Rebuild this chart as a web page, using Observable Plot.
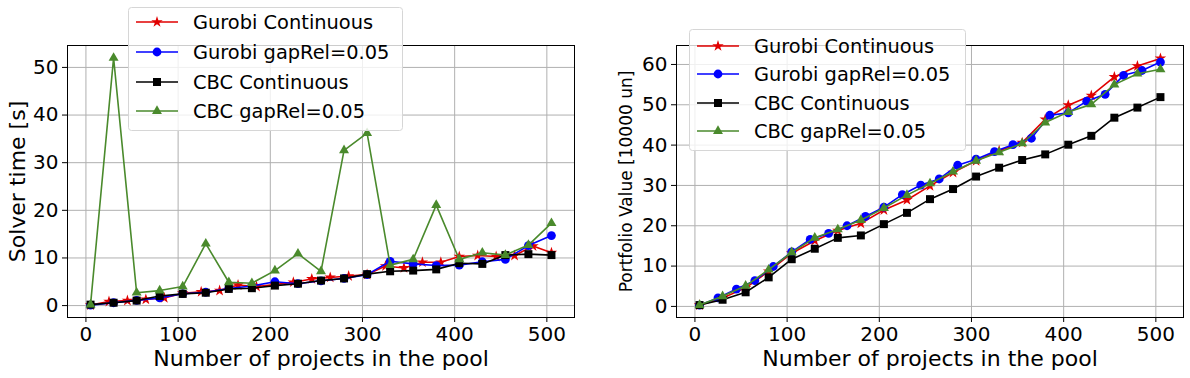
<!DOCTYPE html>
<html><head><meta charset="utf-8">
<script src="https://cdn.jsdelivr.net/npm/d3@7"></script>
<script src="https://cdn.jsdelivr.net/npm/@observablehq/plot@0.6"></script>
<style>
body{margin:0;background:#fff;font-family:"DejaVu Sans",sans-serif;}
#wrap{position:relative;width:1190px;height:378px;overflow:hidden;background:#fff;}
.panel{position:absolute;top:0;}
.legend{position:absolute;}
</style></head>
<body><div id="wrap"></div>
<script>
// ---- categories (number of projects) ----
const xStep25 = [5,30,55,80,105,130,155,180,205,230,255,280,305,330,355,380,405,430,455,480,505];
const xStep20 = [5,25,45,65,85,105,125,145,165,185,205,225,245,265,285,305,325,345,365,385,405,425,445,465,485,505];
const xTicks = [0,100,200,300,400,500];
const yTicksTime = [0,10,20,30,40,50];
const yTicksValue = [0,10,20,30,40,50,60];

// ---- left panel: solver time [s] ----
const timeGurobiCont = [0.1,0.85,1.05,1.3,1.6,2.6,2.9,3.15,4.3,4.0,4.4,4.9,5.6,5.9,6.2,6.5,8.3,7.9,9.1,9.1,10.3,10.5,10.3,10.5,12.5,11.1]; // xStep20
const timeGurobiGap  = [0.1,0.6,1.1,1.6,2.5,2.8,3.6,4.1,5.0,4.6,5.2,5.7,6.5,9.3,8.75,8.4,8.5,9.2,9.7,12.6,14.7]; // xStep25
const timeCbcCont    = [0.2,0.6,1.05,2.0,2.45,2.7,3.5,3.65,4.2,4.6,5.25,5.7,6.6,7.2,7.35,7.6,8.9,8.75,10.6,10.8,10.6]; // xStep25
const timeCbcGap     = [0.2,52.0,2.7,3.15,4.0,13.0,4.9,4.7,7.35,10.9,7.2,32.6,36.2,8.5,9.7,21.1,9.7,11.1,10.6,12.7,17.3]; // xStep25

// ---- right panel: portfolio value [10000 un] ----
const valGurobiCont = [0.3,2.1,4.6,8.7,13.2,16.3,18.8,20.6,23.9,26.4,29.9,33.2,36.1,38.6,40.6,46.4,49.9,52.3,56.9,59.6,61.5]; // xStep25
const valGurobiGap  = [0.3,2.1,4.3,6.4,9.9,13.5,16.6,18.1,20.0,22.3,24.6,27.7,30.1,31.6,35.0,36.5,38.4,40.1,41.7,47.4,48.0,50.9,52.6,57.3,58.5,60.6]; // xStep20
const valCbcCont    = [0.33,1.65,3.5,7.2,11.7,14.3,17.0,17.6,20.4,23.2,26.6,29.1,32.2,34.4,36.3,37.7,40.1,42.3,46.8,49.3,51.9]; // xStep25
const valCbcGap     = [0.33,2.5,5.1,9.1,13.4,17.0,19.1,21.4,24.4,27.6,30.5,33.4,36.1,38.2,40.4,45.6,48.2,50.1,55.0,57.7,58.8]; // xStep25

const seriesNames = ["Gurobi Continuous","Gurobi gapRel=0.05","CBC Continuous","CBC gapRel=0.05"];
const seriesColors = ["#e00000","#0000ff","#000000","#4a8a2c"];
const seriesSymbols = ["star","circle","square","triangle"];
const seriesR = [3.6,4.4,4.5,3.7];

const xLabel = "Number of projects in the pool";
const yLabelLeft = "Solver time [s]";
const yLabelRight = "Portfolio Value [10000 un]";

const zip = (xs, ys) => xs.map((x, i) => ({x, y: ys[i]}));

function panel({width, marginLeft, marginRight, yDomain, yTicks, data, yLabel, yLabelSize, yLabelDx}) {
  const marks = [
    Plot.gridX(xTicks, {stroke: "#b0b0b0", strokeOpacity: 1, strokeWidth: 1}),
    Plot.gridY(yTicks, {stroke: "#b0b0b0", strokeOpacity: 1, strokeWidth: 1})
  ];
  data.forEach((d, i) => {
    marks.push(Plot.line(d, {x: "x", y: "y", stroke: seriesColors[i], strokeWidth: 1.6}));
    marks.push(Plot.dot(d, {x: "x", y: "y", fill: seriesColors[i], symbol: seriesSymbols[i], r: seriesR[i]}));
  });
  marks.push(
    Plot.frame({stroke: "#000", strokeWidth: 1}),
    Plot.axisX({ticks: xTicks, tickSize: 5, tickPadding: 4, label: null, fontSize: 20}),
    Plot.axisY({ticks: yTicks, tickSize: 5, tickPadding: 4, label: null, fontSize: 20}),
    Plot.text([xLabel], {text: d => d, frameAnchor: "bottom", lineAnchor: "middle", textAnchor: "middle", dy: 41, fontSize: 22}),
    Plot.text([yLabel], {text: d => d, frameAnchor: "left", lineAnchor: "middle", textAnchor: "middle", dx: yLabelDx, rotate: -90, fontSize: yLabelSize})
  );
  return Plot.plot({
    width, height: 378, marginTop: 45, marginBottom: 61, marginLeft, marginRight,
    style: {fontFamily: "DejaVu Sans", fontSize: "20px", background: "transparent", color: "#000", overflow: "visible"},
    x: {domain: [-20, 530]},
    y: {domain: yDomain},
    marks
  });
}

const wrap = document.getElementById("wrap");

const left = panel({
  width: 595, marginLeft: 67, marginRight: 21, yDomain: [-2.5, 54.6], yTicks: yTicksTime,
  data: [zip(xStep20, timeGurobiCont), zip(xStep25, timeGurobiGap), zip(xStep25, timeCbcCont), zip(xStep25, timeCbcGap)],
  yLabel: yLabelLeft, yLabelSize: 22, yLabelDx: -50
});
left.classList.add("panel"); left.style.left = "0px";
wrap.appendChild(left);

const right = panel({
  width: 595, marginLeft: 81, marginRight: 7, yDomain: [-2.75, 64.7], yTicks: yTicksValue,
  data: [zip(xStep25, valGurobiCont), zip(xStep20, valGurobiGap), zip(xStep25, valCbcCont), zip(xStep25, valCbcGap)],
  yLabel: yLabelRight, yLabelSize: 17, yLabelDx: -50
});
right.classList.add("panel"); right.style.left = "595px";
wrap.appendChild(right);

function legend(left, top, w, h, rowYs) {
  const svg = d3.select(wrap).append("svg").attr("class", "legend")
    .style("left", left + "px").style("top", top + "px")
    .attr("width", w).attr("height", h);
  svg.append("rect").attr("x", 0.5).attr("y", 0.5).attr("width", w - 1).attr("height", h - 1)
    .attr("rx", 3).attr("fill", "rgba(255,255,255,0.8)").attr("stroke", "#d6d6d6");
  seriesNames.forEach((name, i) => {
    const y = rowYs[i] - top;
    const g = svg.append("g");
    g.append("line").attr("x1", 8).attr("x2", 50).attr("y1", y).attr("y2", y)
      .attr("stroke", seriesColors[i]).attr("stroke-width", 1.6);
    const sym = {star: d3.symbolStar, circle: d3.symbolCircle, square: d3.symbolSquare, triangle: d3.symbolTriangle}[seriesSymbols[i]];
    g.append("path").attr("d", d3.symbol(sym, Math.PI * seriesR[i] * seriesR[i])())
      .attr("transform", `translate(29,${y})`).attr("fill", seriesColors[i]);
    g.append("text").attr("x", 65).attr("y", y).attr("dy", "0.35em")
      .attr("font-family", "DejaVu Sans").attr("font-size", "19.4px").attr("fill", "#000").text(name);
  });
}
legend(128, 7, 275, 124, [22, 52, 82, 111]);
legend(689, 29, 277, 122, [46, 74, 103, 131]);
</script>
</body></html>
